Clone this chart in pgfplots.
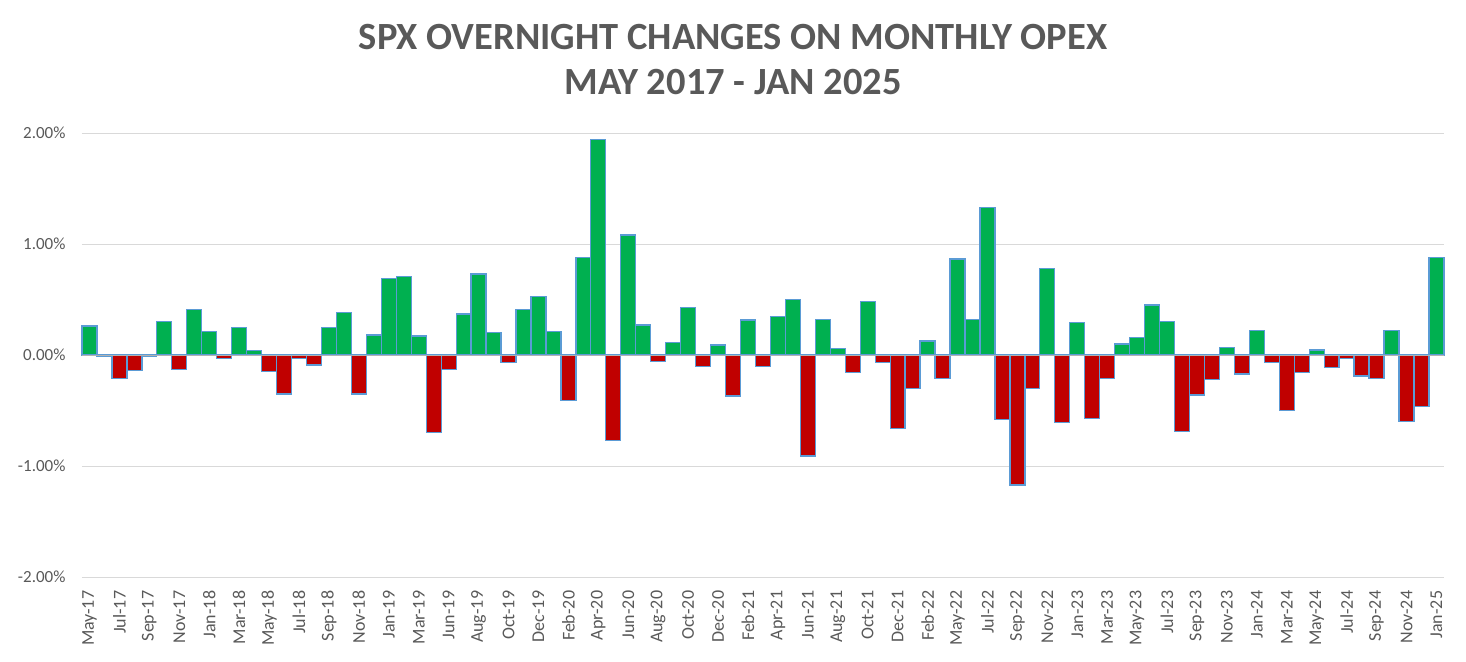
\documentclass[border=0pt]{standalone}
\usepackage{pgfplots}
\pgfplotsset{compat=1.18}
\usepackage{pgfplotstable}
\usepackage{fontspec}
\setmainfont{Carlito}
\definecolor{barG}{HTML}{00B050}
\definecolor{barR}{HTML}{C00000}
\definecolor{barEdge}{HTML}{5B9BD5}
\definecolor{txt}{HTML}{595959}
\definecolor{grd}{HTML}{D9D9D9}
\pgfplotstableread{
x y
0 0.26
5 0.30
7 0.41
8 0.21
10 0.25
11 0.04
16 0.25
17 0.38
19 0.18
20 0.69
21 0.71
22 0.17
25 0.37
26 0.73
27 0.20
29 0.41
30 0.53
31 0.21
33 0.88
34 1.94
36 1.08
37 0.27
39 0.11
40 0.43
42 0.09
44 0.315
46 0.35
47 0.50
49 0.32
50 0.06
52 0.48
56 0.126
58 0.865
59 0.32
60 1.33
64 0.78
66 0.29
69 0.10
70 0.16
71 0.45
72 0.30
76 0.07
78 0.22
82 0.045
87 0.22
90 0.88
}\pos
\pgfplotstableread{
x y
1 -0.015
2 -0.21
3 -0.14
4 -0.01
6 -0.13
9 -0.03
12 -0.15
13 -0.35
14 -0.03
15 -0.09
18 -0.35
23 -0.70
24 -0.13
28 -0.07
32 -0.41
35 -0.77
38 -0.06
41 -0.105
43 -0.37
45 -0.105
48 -0.91
51 -0.16
53 -0.07
54 -0.66
55 -0.30
57 -0.21
61 -0.58
62 -1.17
63 -0.30
65 -0.61
67 -0.57
68 -0.21
73 -0.69
74 -0.36
75 -0.22
77 -0.17
79 -0.07
80 -0.50
81 -0.16
83 -0.11
84 -0.03
85 -0.19
86 -0.21
88 -0.60
89 -0.465
}\neg
\begin{document}
\begin{tikzpicture}[x=1pt,y=1pt]
\useasboundingbox (0,0) rectangle (1466,661);
\node[text=txt, font=\fontsize{38.5}{45}\selectfont\bfseries, anchor=base, inner sep=0pt] at (733,611) {SPX OVERNIGHT CHANGES ON MONTHLY OPEX};
\node[text=txt, font=\fontsize{38.5}{45}\selectfont\bfseries, anchor=base, inner sep=0pt] at (733,566) {MAY 2017 - JAN 2025};
\begin{axis}[
  at={(82pt,84pt)}, anchor=south west,
  scale only axis, width=1362pt, height=444pt,
  xmin=-0.5, xmax=90.5, ymin=-2, ymax=2,
  axis line style={draw=none},
  tick style={draw=none},
  ymajorgrids, grid style={grd, line width=1pt},
  ytick={-2,-1,0,1,2},
  yticklabels={-2.00\%,-1.00\%,0.00\%,1.00\%,2.00\%},
  yticklabel style={text=txt, font=\fontsize{17}{20}\selectfont, xshift=-13pt},
  xtick={0,2,...,90},
  xticklabels={May-17,Jul-17,Sep-17,Nov-17,Jan-18,Mar-18,May-18,Jul-18,Sep-18,Nov-18,Jan-19,Mar-19,Jun-19,Aug-19,Oct-19,Dec-19,Feb-20,Apr-20,Jun-20,Aug-20,Oct-20,Dec-20,Feb-21,Apr-21,Jun-21,Aug-21,Oct-21,Dec-21,Feb-22,May-22,Jul-22,Sep-22,Nov-22,Jan-23,Mar-23,May-23,Jul-23,Sep-23,Nov-23,Jan-24,Mar-24,May-24,Jul-24,Sep-24,Nov-24,Jan-25},
  xticklabel style={text=txt, font=\fontsize{18}{20}\selectfont, rotate=90, anchor=east},
  xticklabel shift=6pt,
  ybar, bar width=1, bar shift=0pt,
  clip=false,
]
\addplot[fill=barG, draw=barEdge, line width=1.3pt] table[x=x,y=y] {\pos};
\addplot[fill=barR, draw=barEdge, line width=1.3pt] table[x=x,y=y] {\neg};
\addplot[sharp plot, draw=black!30, line width=1pt, forget plot] coordinates {(-0.5,0) (90.5,0)};
\end{axis}
\end{tikzpicture}
\end{document}
